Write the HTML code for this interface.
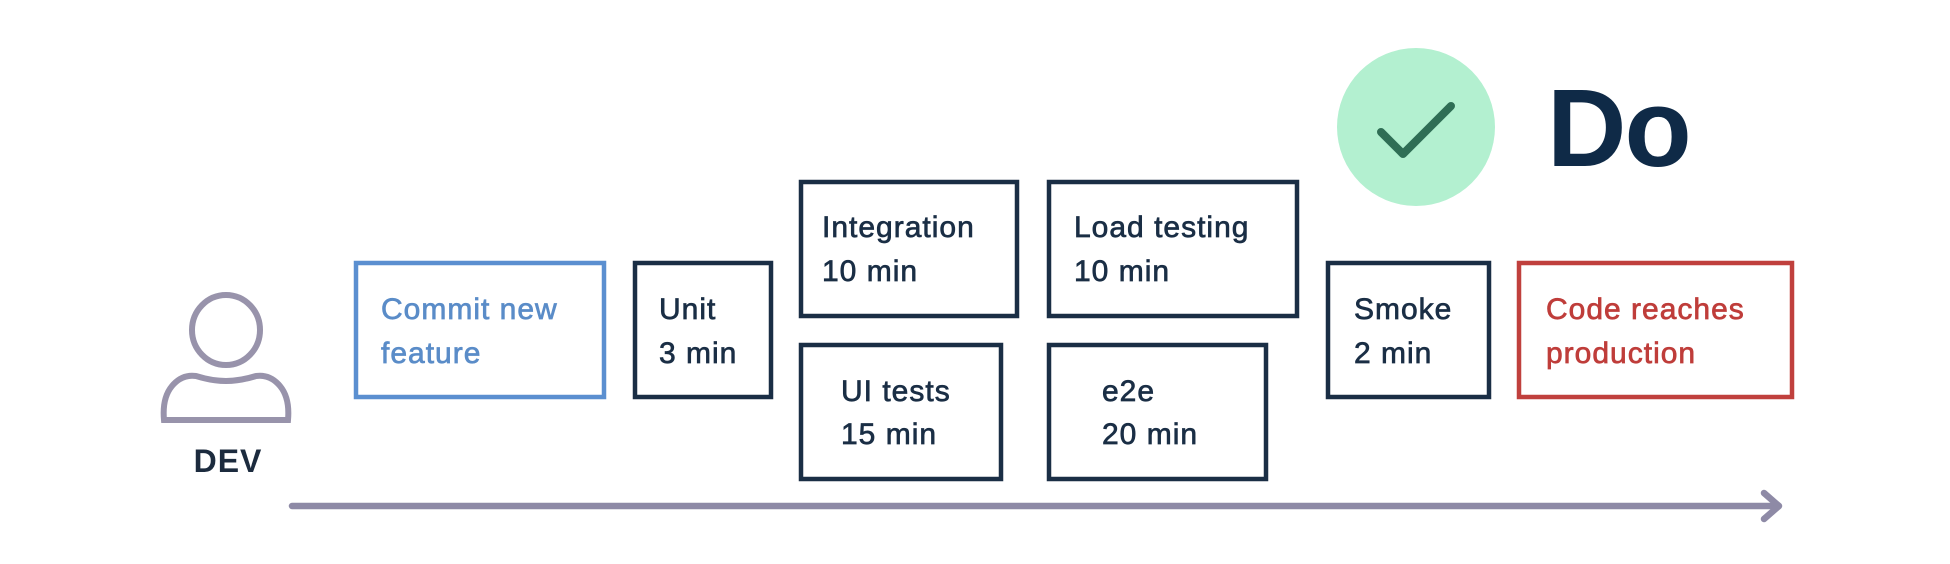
<!DOCTYPE html>
<html><head><meta charset="utf-8"><style>
html,body{margin:0;padding:0;background:#fff;}
svg{display:block}
text{font-family:"Liberation Sans",sans-serif;}
</style></head><body>
<svg width="1950" height="564" viewBox="0 0 1950 564" xmlns="http://www.w3.org/2000/svg">
<rect width="1950" height="564" fill="#fff"/>
<g fill="none" stroke="#9893ab" stroke-width="6">
<ellipse cx="226" cy="330" rx="34" ry="35"/>
<path d="M164 420 L288 420 Q290 398 280 386 Q270 374 256 376 Q240 381 226 381 Q212 381 196 376 Q182 374 172 386 Q162 398 164 420 Z"/>
</g>
<text x="228" y="472" font-size="32" font-weight="bold" fill="#1c2b3e" text-anchor="middle" letter-spacing="1">DEV</text>
<line x1="292" y1="506" x2="1776" y2="506" stroke="#8e8aa6" stroke-width="6.5" stroke-linecap="round"/>
<polyline points="1764,493 1779,506 1764,519" fill="none" stroke="#8e8aa6" stroke-width="6.5" stroke-linecap="round" stroke-linejoin="round"/>
<g fill="none" stroke-width="4.5">
<rect x="356" y="263" width="248" height="134" stroke="#5b8fd0"/>
<rect x="635" y="263" width="136" height="134" stroke="#1a2e45"/>
<rect x="801" y="182" width="216" height="134" stroke="#1a2e45"/>
<rect x="801" y="345" width="200" height="134" stroke="#1a2e45"/>
<rect x="1049" y="182" width="248" height="134" stroke="#1a2e45"/>
<rect x="1049" y="345" width="217" height="134" stroke="#1a2e45"/>
<rect x="1328" y="263" width="161" height="134" stroke="#1a2e45"/>
<rect x="1519" y="263" width="273" height="134" stroke="#c0403d"/>
</g>
<g font-size="30" letter-spacing="1" fill="#1a2e45" stroke="#1a2e45" stroke-width="0.7">
<text x="381" y="319" fill="#5a8cc8" stroke="#5a8cc8">Commit new</text>
<text x="381" y="363" fill="#5a8cc8" stroke="#5a8cc8">feature</text>
<text x="659" y="319">Unit</text>
<text x="659" y="363">3 min</text>
<text x="822" y="237">Integration</text>
<text x="822" y="281">10 min</text>
<text x="841" y="401">UI tests</text>
<text x="841" y="444">15 min</text>
<text x="1074" y="237">Load testing</text>
<text x="1074" y="281">10 min</text>
<text x="1102" y="401">e2e</text>
<text x="1102" y="444">20 min</text>
<text x="1354" y="319">Smoke</text>
<text x="1354" y="363">2 min</text>
<text x="1546" y="319" fill="#bf3d3a" stroke="#bf3d3a">Code reaches</text>
<text x="1546" y="363" fill="#bf3d3a" stroke="#bf3d3a">production</text>
</g>
<circle cx="1416" cy="127" r="79" fill="#b3f0d0"/>
<polyline points="1381,132 1403,154 1451,106" fill="none" stroke="#2f6e55" stroke-width="8" stroke-linecap="round" stroke-linejoin="round"/>
<text x="1547" y="166" font-size="110" font-weight="bold" fill="#0f2a47" letter-spacing="-2">Do</text>
</svg>
</body></html>
